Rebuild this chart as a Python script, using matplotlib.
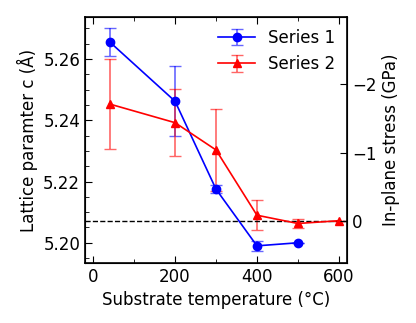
import matplotlib
matplotlib.use("Agg")
import matplotlib.pyplot as plt
import numpy as np

# Data
temp1 = [40, 200, 300, 400, 500]
c1 = [5.2656, 5.2462, 5.2175, 5.1990, 5.2000]
err1 = [0.0045, 0.0115, 0.0012, 0.0017, 0.0]

temp2 = [40, 200, 300, 400, 500, 600]
c2 = [5.2453, 5.2392, 5.2303, 5.2090, 5.2063, 5.2072]
err2 = [0.0146, 0.0110, 0.0133, 0.0049, 0.0015, 0.0]

c_ref = 5.2071          # zero-stress lattice parameter
stress_per_A = -44.8     # GPa per Angstrom

plt.rcParams['font.size'] = 12
fig = plt.figure(figsize=(4.16, 3.23), dpi=100)
ax = fig.add_axes([85/416, 1-263/323, (347-85)/416, (263-17)/323])

ax.errorbar(temp1, c1, yerr=err1, color='blue', marker='o', ms=6, lw=1.2,
            capsize=4, elinewidth=1.2, ecolor=(0, 0, 1, 0.6), label='Series 1')
ax.errorbar(temp2, c2, yerr=err2, color='red', marker='^', ms=6, lw=1.2,
            capsize=4, elinewidth=1.2, ecolor=(1, 0, 0, 0.6), label='Series 2')
ax.axhline(c_ref, color='black', ls='--', lw=1.0)

ax.set_xlim(-20, 620)
ax.set_ylim(5.1934, 5.2737)
ax.set_xticks([0, 200, 400, 600])
ax.set_xticks(np.arange(0, 601, 100), minor=True)
ax.set_yticks([5.20, 5.22, 5.24, 5.26])
ax.set_yticks(np.arange(5.195, 5.2736, 0.005), minor=True)
ax.tick_params(which='both', direction='in', top=True, right=False)
ax.tick_params(which='major', length=5)
ax.tick_params(which='minor', length=3)
ax.set_xlabel('Substrate temperature (°C)')
ax.set_ylabel('Lattice paramter c (Å)')
for s in ax.spines.values():
    s.set_linewidth(1.2)

ax2 = ax.twinx()
lo, hi = ax.get_ylim()
ax2.set_ylim(stress_per_A * (lo - c_ref), stress_per_A * (hi - c_ref))
ax2.set_yticks([0, -1, -2])
ax2.tick_params(direction='in', length=5)
ax2.set_ylabel('In-plane stress (GPa)')

ax.legend(loc='upper right', frameon=False, handlelength=2.2, borderaxespad=0.3)

fig.savefig('out.png', dpi=100)
